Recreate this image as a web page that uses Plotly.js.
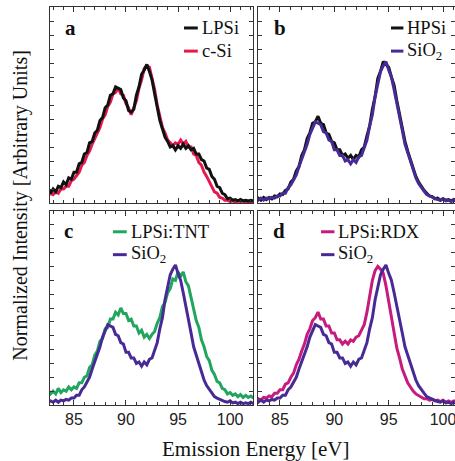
<!DOCTYPE html>
<html>
<head>
<meta charset="utf-8">
<script src="https://cdn.plot.ly/plotly-3.0.1.min.js"></script>
<style>
  html, body { margin: 0; padding: 0; background: #fff; }
  #chart { width: 455px; height: 461px; }
</style>
</head>
<body>
<div id="chart"></div>
<script>
// Emission energy grid (eV), shared by every spectrum
const energy = [
  82.5, 82.75, 83.0, 83.25, 83.5, 83.75, 84.0, 84.25, 84.5, 84.75,
  85.0, 85.25, 85.5, 85.75, 86.0, 86.25, 86.5, 86.75, 87.0, 87.25,
  87.5, 87.75, 88.0, 88.25, 88.5, 88.75, 89.0, 89.25, 89.5, 89.75,
  90.0, 90.25, 90.5, 90.75, 91.0, 91.25, 91.5, 91.75, 92.0, 92.25,
  92.5, 92.75, 93.0, 93.25, 93.5, 93.75, 94.0, 94.25, 94.5, 94.75,
  95.0, 95.25, 95.5, 95.75, 96.0, 96.25, 96.5, 96.75, 97.0, 97.25,
  97.5, 97.75, 98.0, 98.25, 98.5, 98.75, 99.0, 99.25, 99.5, 99.75,
  100.0, 100.25, 100.5, 100.75, 101.0, 101.25, 101.5, 101.75, 102.0, 102.25, 102.5];

// Normalized emission intensities (noisy measured spectra)
const lpsi = [
  0.11, 0.07, 0.10, 0.08, 0.12, 0.11, 0.15, 0.13, 0.18, 0.17,
  0.22, 0.22, 0.28, 0.29, 0.35, 0.36, 0.43, 0.44, 0.50, 0.52,
  0.59, 0.61, 0.68, 0.70, 0.77, 0.78, 0.83, 0.82, 0.81, 0.75,
  0.73, 0.66, 0.65, 0.67, 0.77, 0.83, 0.92, 0.95, 0.99, 0.94,
  0.88, 0.78, 0.68, 0.59, 0.53, 0.47, 0.44, 0.40, 0.41, 0.38,
  0.41, 0.39, 0.42, 0.39, 0.41, 0.38, 0.39, 0.35, 0.35, 0.31,
  0.30, 0.25, 0.24, 0.19, 0.17, 0.12, 0.11, 0.07, 0.06, 0.03,
  0.035, 0.02, 0.025, 0.015, 0.025, 0.015, 0.02, 0.015, 0.02, 0.015, 0.02];

const cSi = [
  0.05, 0.07, 0.06, 0.08, 0.07, 0.10, 0.10, 0.12, 0.12, 0.16,
  0.17, 0.20, 0.22, 0.27, 0.29, 0.34, 0.37, 0.42, 0.46, 0.50,
  0.54, 0.60, 0.63, 0.69, 0.72, 0.78, 0.79, 0.82, 0.78, 0.77,
  0.71, 0.68, 0.63, 0.68, 0.73, 0.82, 0.88, 0.96, 0.98, 0.97,
  0.89, 0.81, 0.70, 0.62, 0.54, 0.50, 0.45, 0.43, 0.41, 0.43,
  0.42, 0.45, 0.42, 0.44, 0.40, 0.40, 0.35, 0.34, 0.29, 0.27,
  0.22, 0.19, 0.15, 0.12, 0.08, 0.07, 0.04, 0.035, 0.02, 0.02,
  0.01, 0.015, 0.005, 0.015, 0.01, 0.015, 0.005, 0.01, 0.01, 0.005, 0.01];

const hpsi = [
  0.03, 0.02, 0.035, 0.02, 0.04, 0.025, 0.04, 0.03, 0.05, 0.045,
  0.065, 0.06, 0.09, 0.10, 0.15, 0.17, 0.23, 0.26, 0.34, 0.38,
  0.46, 0.50, 0.57, 0.58, 0.62, 0.57, 0.56, 0.50, 0.49, 0.44,
  0.43, 0.38, 0.38, 0.34, 0.35, 0.32, 0.34, 0.31, 0.34, 0.33,
  0.38, 0.40, 0.48, 0.55, 0.67, 0.76, 0.89, 0.94, 1.01, 0.99,
  0.97, 0.90, 0.84, 0.73, 0.63, 0.53, 0.44, 0.37, 0.31, 0.24,
  0.19, 0.15, 0.12, 0.09, 0.07, 0.05, 0.045, 0.03, 0.035, 0.02,
  0.03, 0.02, 0.025, 0.015, 0.025, 0.015, 0.02, 0.015, 0.02, 0.015, 0.02];

const sio2 = [
  0.02, 0.03, 0.02, 0.035, 0.02, 0.035, 0.03, 0.04, 0.035, 0.05,
  0.05, 0.07, 0.07, 0.11, 0.13, 0.17, 0.20, 0.26, 0.31, 0.37,
  0.42, 0.49, 0.54, 0.58, 0.57, 0.56, 0.51, 0.50, 0.45, 0.44,
  0.38, 0.38, 0.34, 0.34, 0.30, 0.31, 0.28, 0.31, 0.29, 0.33,
  0.34, 0.40, 0.45, 0.55, 0.63, 0.76, 0.86, 0.94, 0.98, 1.01,
  0.95, 0.90, 0.81, 0.72, 0.61, 0.52, 0.42, 0.36, 0.29, 0.23,
  0.18, 0.14, 0.11, 0.085, 0.06, 0.05, 0.04, 0.03, 0.025, 0.02,
  0.03, 0.015, 0.02, 0.01, 0.02, 0.01, 0.015, 0.01, 0.02, 0.01, 0.015];

const lpsiTNT = [
  0.11, 0.08, 0.10, 0.08, 0.12, 0.09, 0.11, 0.10, 0.13, 0.11,
  0.13, 0.12, 0.16, 0.16, 0.20, 0.21, 0.27, 0.29, 0.36, 0.39,
  0.46, 0.48, 0.55, 0.56, 0.62, 0.62, 0.67, 0.65, 0.70, 0.66,
  0.66, 0.61, 0.62, 0.57, 0.57, 0.52, 0.54, 0.49, 0.51, 0.48,
  0.51, 0.53, 0.59, 0.63, 0.71, 0.74, 0.81, 0.84, 0.91, 0.90,
  0.96, 0.93, 0.96, 0.89, 0.86, 0.77, 0.70, 0.61, 0.56, 0.47,
  0.42, 0.35, 0.32, 0.25, 0.22, 0.17, 0.16, 0.12, 0.11, 0.08,
  0.09, 0.07, 0.08, 0.06, 0.075, 0.055, 0.07, 0.055, 0.065, 0.05, 0.06];

const lpsiRDX = [
  0.04, 0.03, 0.045, 0.035, 0.055, 0.05, 0.065, 0.06, 0.085, 0.085,
  0.11, 0.11, 0.15, 0.16, 0.20, 0.23, 0.29, 0.33, 0.39, 0.44,
  0.51, 0.55, 0.61, 0.63, 0.67, 0.62, 0.62, 0.57, 0.57, 0.52,
  0.52, 0.47, 0.47, 0.44, 0.46, 0.44, 0.47, 0.46, 0.49, 0.50,
  0.54, 0.58, 0.67, 0.78, 0.90, 0.97, 1.00, 0.98, 0.95, 0.86,
  0.75, 0.62, 0.52, 0.41, 0.34, 0.26, 0.21, 0.16, 0.13, 0.10,
  0.08, 0.07, 0.06, 0.045, 0.045, 0.035, 0.04, 0.03, 0.035, 0.025,
  0.035, 0.02, 0.03, 0.02, 0.03, 0.02, 0.025, 0.015, 0.025, 0.015, 0.02];

const tickVals = [85, 90, 95, 100];
const tickText = ['85', '90', '95', '100'];

const BLACK = '#111111';
const RED = '#e6184e';
const PURPLE = '#472a96';
const GREEN = '#20a65e';
const MAGENTA = '#c81b7e';

const SERIF = 'Liberation Serif';
const SANS = 'Liberation Sans';

function spectrum(y, color, xa, ya, name) {
  return {
    x: energy, y: y, type: 'scatter', mode: 'lines', name: name,
    xaxis: xa, yaxis: ya, showlegend: false,
    line: { color: color, width: 3 }
  };
}

const data = [
  spectrum(cSi, RED, 'x', 'y', 'c-Si'),
  spectrum(lpsi, BLACK, 'x', 'y', 'LPSi'),
  spectrum(hpsi, BLACK, 'x2', 'y2', 'HPSi'),
  spectrum(sio2, PURPLE, 'x2', 'y2', 'SiO2'),
  spectrum(lpsiTNT, GREEN, 'x3', 'y3', 'LPSi:TNT'),
  spectrum(sio2, PURPLE, 'x3', 'y3', 'SiO2'),
  spectrum(lpsiRDX, MAGENTA, 'x4', 'y4', 'LPSi:RDX'),
  spectrum(sio2, PURPLE, 'x4', 'y4', 'SiO2')
];

function xAxis(domain, range, anchor, labels) {
  return {
    domain: domain, range: range, anchor: anchor,
    showgrid: false, zeroline: false,
    showline: true, linecolor: '#333', linewidth: 1, mirror: 'allticks',
    ticks: 'inside', ticklen: 5, tickcolor: '#333', tickwidth: 1,
    tickmode: 'array', tickvals: tickVals, ticktext: tickText,
    showticklabels: labels, ticklabeloverflow: 'allow',
    tickfont: { family: SANS, size: 16, color: '#222' },
    minor: { dtick: 1, tick0: 80, ticks: 'inside', ticklen: 3, tickcolor: '#333', showgrid: false }
  };
}

function yAxis(domain, anchor) {
  return {
    domain: domain, range: [0, 1.4], anchor: anchor,
    showgrid: false, zeroline: false,
    showline: true, linecolor: '#333', linewidth: 1, mirror: 'allticks',
    ticks: 'inside', ticklen: 4, tickcolor: '#333', tickwidth: 1,
    dtick: 0.1, showticklabels: false
  };
}

const leftX = [0, 0.5012];
const rightX = [0.5136, 1];
const topY = [0.5075, 1];
const botY = [0, 0.4874];

// Legend entries: [xaxis, yaxis, label, color, row]
const legendItems = [
  ['x', 'y', 'LPSi', BLACK, 0], ['x', 'y', 'c-Si', RED, 1],
  ['x2', 'y2', 'HPSi', BLACK, 0], ['x2', 'y2', 'SiO<sub>2</sub>', PURPLE, 1],
  ['x3', 'y3', 'LPSi:TNT', GREEN, 0], ['x3', 'y3', 'SiO<sub>2</sub>', PURPLE, 1],
  ['x4', 'y4', 'LPSi:RDX', MAGENTA, 0], ['x4', 'y4', 'SiO<sub>2</sub>', PURPLE, 1]
];
// legend anchor per panel (axis-domain fractions): [line start, line end, text start]
const legendPos = {
  x: [0.660, 0.728, 0.738],
  x2: [0.675, 0.738, 0.748],
  x3: [0.310, 0.378, 0.388],
  x4: [0.320, 0.388, 0.398]
};

const shapes = [];
const annotations = [];
legendItems.forEach(([xa, ya, label, color, row]) => {
  const [x0, x1, xt] = legendPos[xa];
  const yc = row === 0 ? 0.893 : 0.775;
  shapes.push({
    type: 'line', xref: xa + ' domain', yref: ya + ' domain',
    x0: x0, x1: x1, y0: yc, y1: yc,
    line: { color: color, width: 3 }
  });
  annotations.push({
    xref: xa + ' domain', yref: ya + ' domain',
    x: xt, y: yc, xanchor: 'left', yanchor: 'middle',
    text: label, showarrow: false,
    font: { family: SERIF, size: 18.5, color: '#111' }
  });
});

// Panel letters
[['x', 'y', 'a', 0.065], ['x2', 'y2', 'b', 0.07], ['x3', 'y3', 'c', 0.06], ['x4', 'y4', 'd', 0.065]]
  .forEach(([xa, ya, t, xp]) => {
    annotations.push({
      xref: xa + ' domain', yref: ya + ' domain', x: xp, y: 0.895,
      xanchor: 'left', yanchor: 'middle', text: '<b>' + t + '</b>', showarrow: false,
      font: { family: SERIF, size: 21, color: '#111' }
    });
  });

// Shared axis titles
annotations.push({
  xref: 'paper', yref: 'paper', x: 0.5074, y: -0.075, xanchor: 'center', yanchor: 'top',
  text: 'Emission Energy [eV]', showarrow: false,
  font: { family: SERIF, size: 21, color: '#111' }
});
annotations.push({
  xref: 'paper', yref: 'paper', x: -0.075, y: 0.5, xanchor: 'center', yanchor: 'middle',
  text: 'Normalized Intensity [Arbitrary Units]', showarrow: false, textangle: -90,
  font: { family: SERIF, size: 20, color: '#111' }
});

const layout = {
  width: 455, height: 461,
  margin: { l: 50, r: 0, t: 7, b: 56 },
  paper_bgcolor: '#ffffff', plot_bgcolor: '#ffffff',
  showlegend: false,
  xaxis: xAxis(leftX, [82.7, 102.2], 'y', false),
  yaxis: yAxis(topY, 'x'),
  xaxis2: xAxis(rightX, [82.98, 101.1], 'y2', false),
  yaxis2: yAxis(topY, 'x2'),
  xaxis3: xAxis(leftX, [82.7, 102.2], 'y3', true),
  yaxis3: yAxis(botY, 'x3'),
  xaxis4: xAxis(rightX, [82.98, 101.1], 'y4', true),
  yaxis4: yAxis(botY, 'x4'),
  shapes: shapes,
  annotations: annotations
};

Plotly.newPlot('chart', data, layout, { staticPlot: true, displayModeBar: false });
</script>
</body>
</html>
